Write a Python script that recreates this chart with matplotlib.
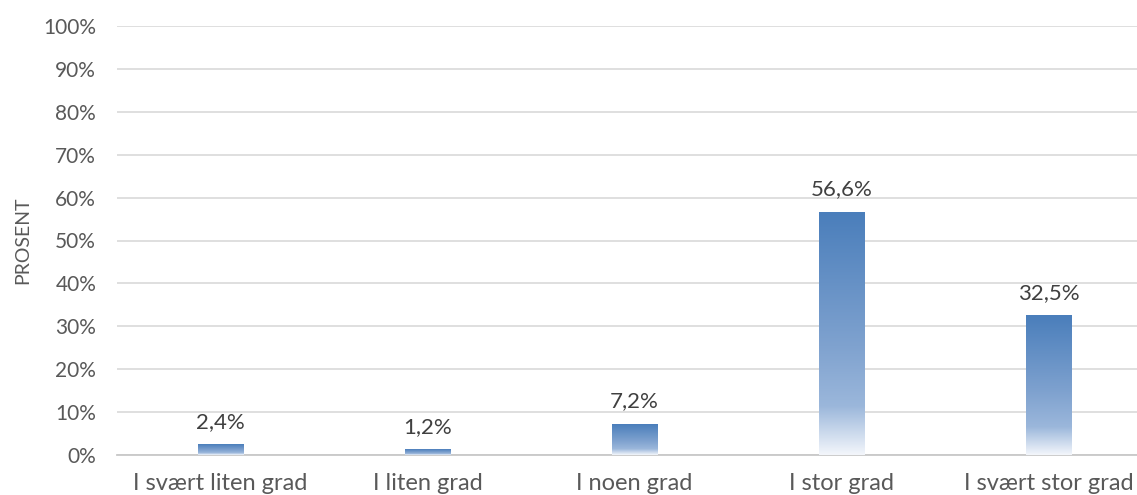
import numpy as np
import matplotlib
matplotlib.use("Agg")
import matplotlib.pyplot as plt
from matplotlib.colors import LinearSegmentedColormap
from matplotlib.ticker import FuncFormatter

categories = ["I svært liten grad", "I liten grad", "I noen grad", "I stor grad", "I svært stor grad"]
values = [2.4, 1.2, 7.2, 56.6, 32.5]
yticks = list(range(0, 101, 10))

plt.rcParams['font.family'] = ['Lato', 'DejaVu Sans']

fig = plt.figure(figsize=(11.37, 4.95), dpi=100)
ax = fig.add_axes([117 / 1137, 40 / 495, 1035 / 1137, 429 / 495])

x = np.arange(len(categories))
bars = ax.bar(x, values, width=0.22, color='none', edgecolor='none', zorder=3)

# vertical fade per bar: blue at the top, almost white at the base
cmap = LinearSegmentedColormap.from_list(
    'fade', [(0.0, '#4a7ebb'), (0.55, '#7fa2cf'), (0.8, '#9bb7db'), (1.0, '#f3f6fb')])
grad = np.linspace(0, 1, 256).reshape(-1, 1)
for b in bars:
    x0, y0 = b.get_x(), b.get_y()
    ax.imshow(grad, cmap=cmap, aspect='auto', origin='upper',
              extent=[x0, x0 + b.get_width(), y0, y0 + b.get_height()], zorder=3)

for xi, v in zip(x, values):
    ax.text(xi, v + 3.0, f"{v:.1f}%".replace('.', ','), ha='center', va='bottom',
            fontsize=16, color='#404040', zorder=4)

ax.set_xlim(-0.5, len(categories) - 0.5)
ax.set_ylim(0, 100)
ax.set_yticks(yticks)
ax.yaxis.set_major_formatter(FuncFormatter(lambda v, p: f"{int(v)}%"))
ax.set_xticks(x)
ax.set_xticklabels(categories)
ax.tick_params(axis='both', length=0, colors='#595959')
ax.tick_params(axis='y', pad=15, labelsize=15)
ax.tick_params(axis='x', pad=13, labelsize=17)

ax.grid(axis='y', color='#d9d9d9', linewidth=1.2, zorder=0)
for s in ['top', 'right', 'left']:
    ax.spines[s].set_visible(False)
ax.spines['bottom'].set_color('#c8c8c8')
ax.spines['bottom'].set_linewidth(1.3)

ax.set_ylabel('PROSENT', fontsize=14, color='#595959')
ax.yaxis.set_label_coords(-0.083, 0.5)

fig.savefig('out.png', dpi=100)
